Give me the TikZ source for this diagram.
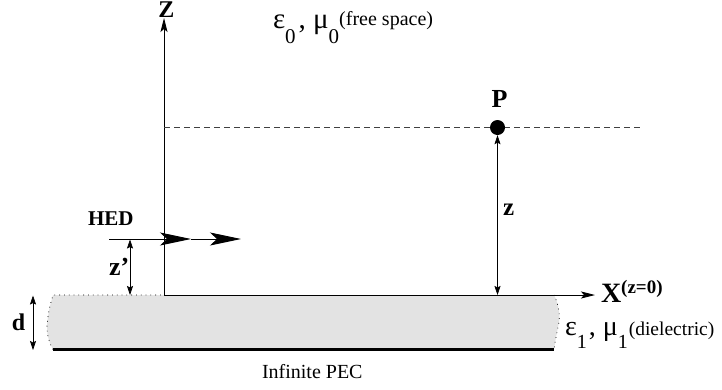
\documentclass[tikz,border=0pt]{standalone}
\usepackage{fontspec}
\setmainfont{Liberation Serif}
\usetikzlibrary{arrows.meta}
\newcommand\fsz[1]{\fontsize{#1}{#1}\selectfont}
\begin{document}
\begin{tikzpicture}[x=1pt,y=-1pt,
  lbl/.style={inner sep=0pt,outer sep=0pt},
  axis/.style={line width=0.9pt,-{Stealth[length=14pt,width=7pt,inset=3pt]}},
  dimarrow/.style={line width=0.7pt,{Stealth[length=9pt,width=6pt,inset=1.5pt]}-{Stealth[length=9pt,width=6pt,inset=1.5pt]}},
  hedtip/.style={line width=0.9pt,-{Stealth[length=31pt,width=13pt,inset=7pt]}},
  edge dots/.style={line width=0.7pt,dash pattern=on 0.8pt off 4pt}]
\useasboundingbox (0,0) rectangle (722,389);
% coordinates
\coordinate (O) at (164,295);
\coordinate (Ztop) at (164,18);
\coordinate (Xend) at (595,295);
\coordinate (SL) at (53,295);
\coordinate (SR) at (554,295);
\coordinate (BL) at (53,349.5);
\coordinate (BR) at (554,349.5);
% slab
\fill[black!11] (SL) -- (SR) .. controls (559,304) and (560,318) .. (559,322) .. controls (557,332) and (555,342) .. (BR) -- (BL) .. controls (50,344) and (47,336) .. (47,328) .. controls (47,318) and (50,305) .. (SL) -- cycle;
\draw[edge dots] (BL) .. controls (50,344) and (47,336) .. (47,328) .. controls (47,318) and (50,305) .. (SL) -- (O);
\draw[edge dots] (SR) .. controls (559,304) and (560,318) .. (559,322) .. controls (557,332) and (555,342) .. (BR);
\draw[line width=3pt] (BL) -- (BR);
% axes
\draw[axis] (O) -- (Ztop);
\draw[axis] (O) -- (Xend);
% dashed level of P
\coordinate (dashL) at (164,127.5);
\coordinate (dashR) at (640,127.5);
\draw[black!75,line width=0.6pt,dash pattern=on 6pt off 4pt] (dashL) -- (dashR);
\node[circle,fill=black,minimum size=15pt,inner sep=0pt] (P) at (497.5,127.5) {};
\node[lbl,anchor=base] (Plbl) at (499.5,107) {\fsz{26}\bfseries P};
% z distance
\coordinate (zb) at (497.5,295);
\draw[dimarrow] (zb) -- (P.south);
\node[lbl,anchor=base west] (zlbl) at (503,215) {\fsz{25}\bfseries z};
% HED
\coordinate (hedL) at (109,239);
\coordinate (hedM) at (191,239);
\coordinate (hedR) at (241,239);
\draw[hedtip] (hedL) -- (hedM);
\draw[hedtip] (hedM) -- (hedR);
\node[lbl,anchor=base west] (hedlbl) at (88,225) {\fsz{21}\bfseries HED};
% z'
\coordinate (zpT) at (130,239.5);
\coordinate (zpB) at (130,295);
\draw[dimarrow] (zpB) -- (zpT);
\node[lbl,anchor=base west] (zplbl) at (109,275) {\fsz{26}\bfseries z’};
% d
\coordinate (dT) at (33,295.5);
\coordinate (dB) at (33,350);
\draw[dimarrow] (dB) -- (dT);
\node[lbl,anchor=base west] (dlbl) at (12,330) {\fsz{24}\bfseries d};
% axis labels
\node[lbl,anchor=base] (Zlbl) at (166.5,17.5) {\fsz{24}\bfseries Z};
\node[lbl,anchor=base west] (Xlbl) at (601,302) {\fsz{28}\bfseries X\raisebox{9pt}{\fsz{19}(z=0)}};
% media
\node[lbl,anchor=base west] (eps0) at (273,28) {\fsz{29}ε\raisebox{-15pt}{\fsz{21}0}\kern3pt, μ\raisebox{-15pt}{\fsz{21}0}\raisebox{3pt}{\fsz{20}(free space)}};
\node[lbl,anchor=base west] (eps1) at (565,335) {\fsz{28}ε\raisebox{-13pt}{\fsz{20}1}\kern2pt, μ\raisebox{-13pt}{\fsz{20}1}\kern1pt{\fsz{19.5}(dielectric)}};
\node[lbl,anchor=base west] (pec) at (262,378) {\fsz{20}Infinite PEC};
\end{tikzpicture}
\end{document}
